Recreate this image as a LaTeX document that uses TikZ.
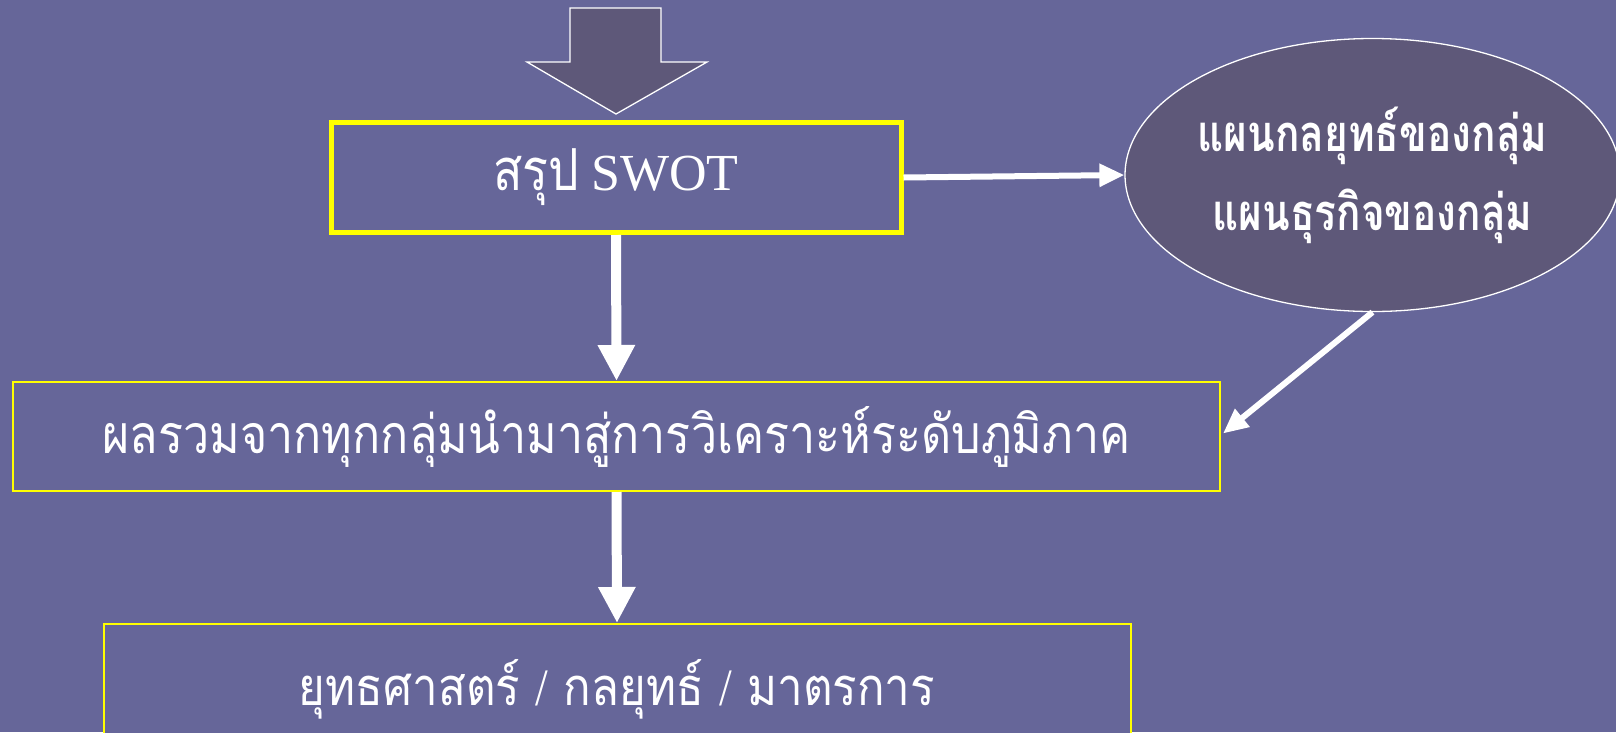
\documentclass[tikz,border=0pt]{standalone}
\usepackage{fontspec}
\usepackage{graphicx}
\setmainfont{Liberation Serif}
\newfontfamily\thai[Script=Thai]{Loma}
\usetikzlibrary{arrows.meta,shapes.geometric,calc}
\definecolor{bgc}{HTML}{666699}
\definecolor{darkc}{HTML}{5E5879}
\definecolor{yel}{HTML}{FFFF00}
\newcommand\fitw[3]{\scalebox{1}[#2]{\resizebox{#1}{!}{#3}}}
\tikzset{
  box/.style={draw=yel, fill=bgc, inner sep=0pt, text=white, font=\thai\fontsize{44}{52}\selectfont},
  bigarrow/.style={draw=white, line width=10pt, -{Triangle[width=35pt,length=36pt]}},
  thinarrow/.style={draw=white, line width=6pt, -{Triangle[width=22pt,length=25pt]}},
}
\begin{document}
\begin{tikzpicture}[x=1pt,y=-1pt]
\fill[bgc] (0,0) rectangle (1616,732);
\useasboundingbox (0,0) rectangle (1616,732);
% block arrow
\draw[white, line width=1.3pt, fill=darkc, line join=miter]
  (570,8) -- (661,8) -- (661,62) -- (707,62) -- (616,114) -- (527,62) -- (570,62) -- cycle;
\coordinate (tip) at (616,114);
% boxes
\node[box, line width=5pt, minimum width=570pt, minimum height=110pt] (swot) at (616,177.5)
  {\fitw{86pt}{1.2}{สรุป}\hspace{12pt}{\rmfamily\fontsize{52}{60}\selectfont SWOT}};
\node[box, line width=2pt, minimum width=1207pt, minimum height=109pt] (mid) at (616.5,436.5)
  {\fitw{1028pt}{1.15}{ผลรวมจากทุกกลุ่มนำมาสู่การวิเคราะห์ระดับภูมิภาค}};
\node[box, line width=2pt, minimum width=1027pt, minimum height=130pt, anchor=north] (bot) at (617,623)
  {\fitw{636pt}{1.15}{ยุทธศาสตร์ {\rmfamily/} กลยุทธ์ {\rmfamily/} มาตรการ}};
\node[ellipse, draw=white, line width=1.3pt, fill=darkc, minimum width=485pt, minimum height=273pt,
  inner sep=0pt, text=white, align=center, font=\thai\bfseries\fontsize{40}{77}\selectfont] (ell) at (1372.5,175)
  {\fitw{350pt}{1.25}{แผนกลยุทธ์ของกลุ่ม}\\[2pt]\fitw{320pt}{1.25}{แผนธุรกิจของกลุ่ม}};
% connectors
\draw[bigarrow] (swot.south) -- (mid.north);
\draw[bigarrow] (mid.south) -- (bot.north);
\draw[thinarrow] (swot.east) -- (ell.west);
\draw[thinarrow] (ell.south) -- ($(mid.east)+(2,-3)$);
\end{tikzpicture}
\end{document}
